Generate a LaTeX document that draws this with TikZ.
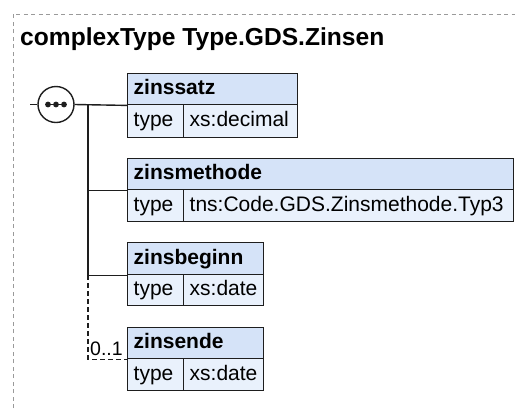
\documentclass[tikz,border=0pt]{standalone}
\usepackage{fontspec}
\setmainfont{Liberation Sans}
\begin{document}
\begin{tikzpicture}[x=1pt,y=-1pt,
  hdr/.style={draw=boxline, fill=hdrfill, line width=1.4pt, anchor=north west, inner xsep=6pt, inner ysep=0pt,
    font=\fontsize{21}{24}\selectfont\bfseries, text height=15pt, text depth=4pt, align=left},
  cell/.style={draw=boxline, fill=rowfill, line width=1.4pt, anchor=north west, inner xsep=6pt, inner ysep=0pt,
    font=\fontsize{21}{24}\selectfont, text height=15pt, text depth=4pt, align=left},
  conn/.style={line width=1.4pt, draw=boxline},
  optconn/.style={line width=1.4pt, draw=boxline, dash pattern=on 5pt off 3pt},
]
\definecolor{boxline}{HTML}{1E1E1E}
\definecolor{hdrfill}{HTML}{D5E3F8}
\definecolor{rowfill}{HTML}{E9F1FC}
\definecolor{frame}{HTML}{9A9A9A}
\useasboundingbox (0,0) rectangle (515,408);
\fill[white] (0,0) rectangle (515,408);
% outer dashed frame
\draw[frame, line width=0.9pt, dash pattern=on 4pt off 3.5pt] (13,408) -- (13,14) -- (515,14);
% title
\node[anchor=base west, inner sep=0pt, font=\fontsize{24.6}{28}\selectfont\bfseries] (title) at (20,45.5) {complexType Type.GDS.Zinsen};

% element boxes
\node[hdr, minimum width=170pt, minimum height=31pt, text width=158pt] (h1) at (127,73) {zinssatz};
\node[cell, minimum width=56pt, minimum height=33pt, text width=44pt] (t1) at (127,104) {type};
\node[cell, minimum width=114pt, minimum height=33pt, text width=102pt] (v1) at (183,104) {xs:decimal};

\node[hdr, minimum width=386pt, minimum height=31pt, text width=374pt] (h2) at (127,158) {zinsmethode};
\node[cell, minimum width=56pt, minimum height=32pt, text width=44pt] (t2) at (127,189) {type};
\node[cell, minimum width=330pt, minimum height=32pt, text width=318pt] (v2) at (183,189) {tns:Code.GDS.Zinsmethode.Typ3};

\node[hdr, minimum width=136pt, minimum height=32pt, text width=124pt] (h3) at (127,242) {zinsbeginn};
\node[cell, minimum width=56pt, minimum height=31pt, text width=44pt] (t3) at (127,274) {type};
\node[cell, minimum width=80pt, minimum height=31pt, text width=68pt] (v3) at (183,274) {xs:date};

\node[hdr, minimum width=136pt, minimum height=31pt, text width=124pt] (h4) at (127,327) {zinsende};
\node[cell, minimum width=56pt, minimum height=32pt, text width=44pt] (t4) at (127,358) {type};
\node[cell, minimum width=80pt, minimum height=32pt, text width=68pt] (v4) at (183,358) {xs:date};

% sequence compositor
\coordinate (stub) at (30,104.5);
\coordinate (bus) at (88,104.5);
\node[circle, draw=boxline, fill=white, line width=1.4pt, minimum size=36pt, inner sep=0pt] (seq) at (56,104.5) {};
\draw[conn] (stub) -- (seq.west);
\draw[conn] (seq.east) -- (h1.south west);
\draw[conn] (bus) |- (h2.south west);
\draw[conn] (bus) |- (h3.south west);
\coordinate (busopt) at (h3.south west -| bus);
\draw[optconn] (busopt) |- (h4.south west);
\node[anchor=base west, inner sep=0pt, font=\fontsize{19.5}{22}\selectfont] (card) at (90,355) {0..1};
% dots in sequence symbol
\draw[line width=1.2pt, boxline] (48,104.5) -- (64,104.5);
\fill[boxline] (48,104.5) circle (2.9pt) (56,104.5) circle (2.9pt) (64,104.5) circle (2.9pt);
\end{tikzpicture}
\end{document}
